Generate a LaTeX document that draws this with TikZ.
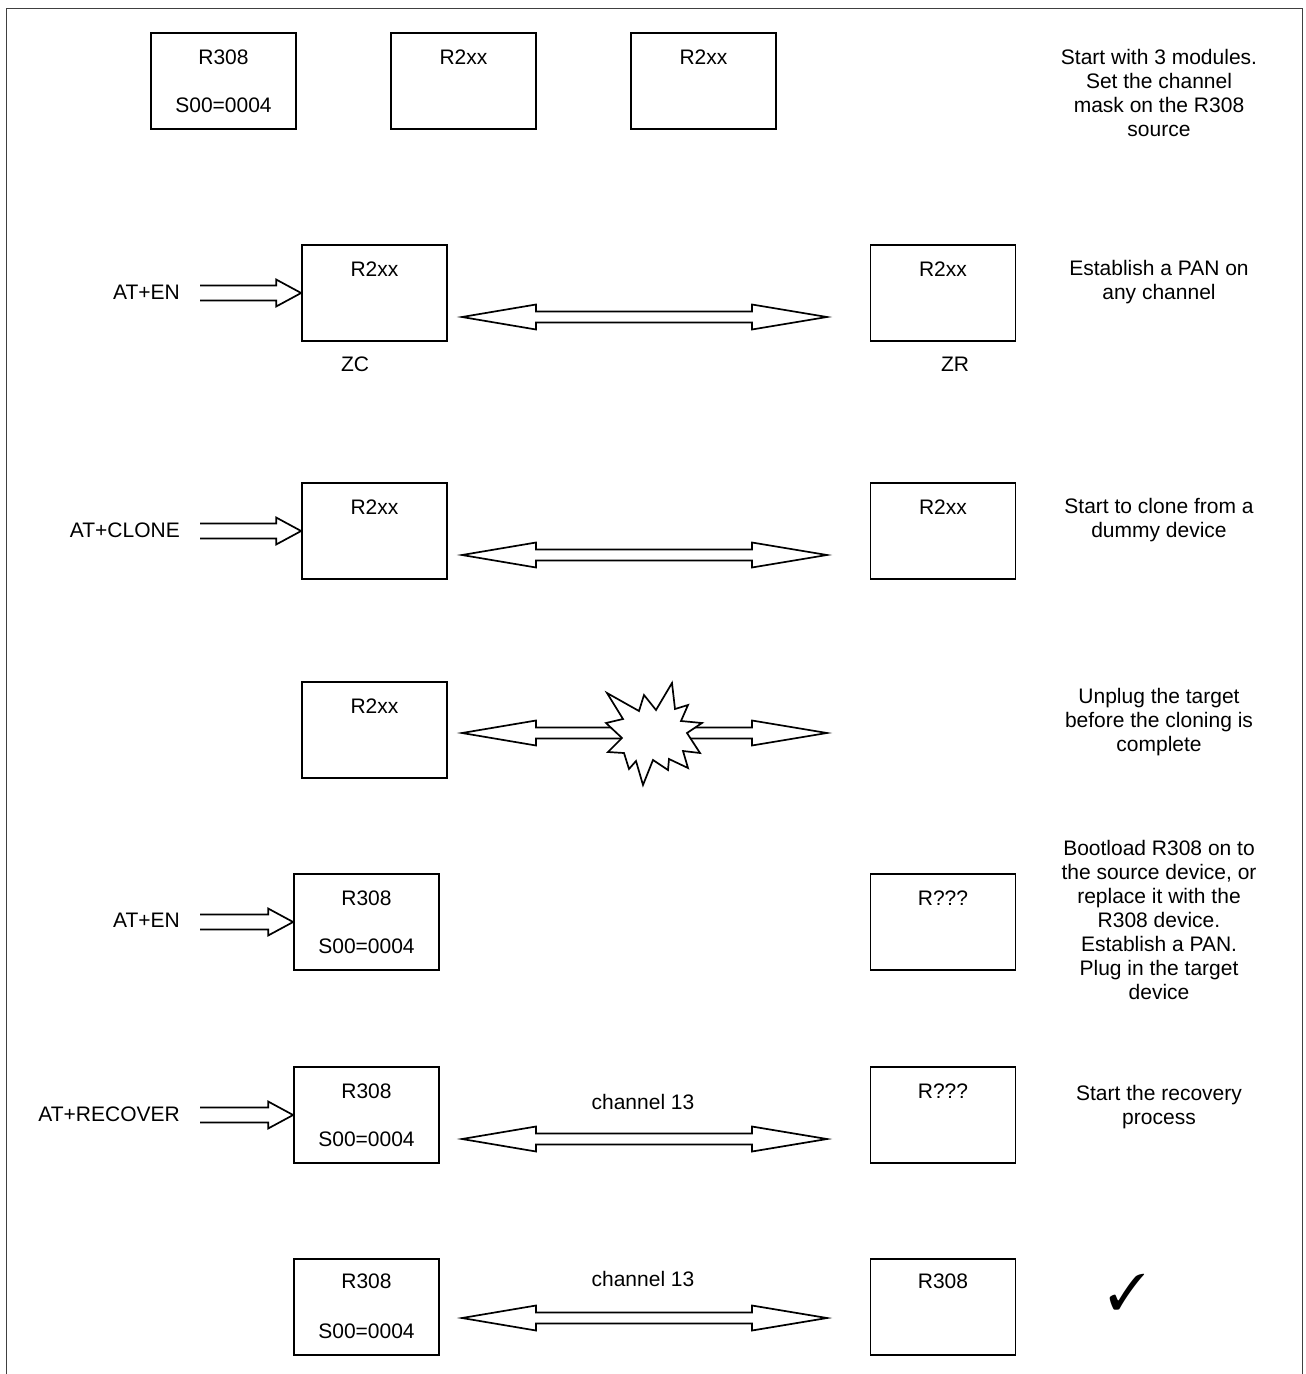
\documentclass[tikz,border=0pt]{standalone}
\usepackage{fontspec}
\setmainfont{Liberation Sans}
\usepackage{pifont}
\usetikzlibrary{calc}

\begin{document}
\begin{tikzpicture}[x=1pt,y=-1pt,
  every node/.style={font=\fontsize{21}{24}\selectfont, inner sep=0pt},
  module/.style={draw, line width=1.7pt, minimum width=145pt, minimum height=96pt},
  lbl/.style={anchor=base},
  % multi-line notes: the base anchor sits on the last line
  note/.style={anchor=base, align=center},
  cmd/.style={anchor=base east},
  % hollow single arrow, open at its tail
  fatin/.style={line width=1.7pt, line join=miter, to path={
      ($(\tikztostart)+(0,-7.5)$) -- ($(\tikztotarget)+(-25,-7.5)$)
      -- ($(\tikztotarget)+(-25,-13.5)$) -- (\tikztotarget)
      -- ($(\tikztotarget)+(-25,13.5)$) -- ($(\tikztotarget)+(-25,7.5)$)
      -- ($(\tikztostart)+(0,7.5)$)}},
  % hollow double-headed arrow
  fatboth/.style={line width=1.7pt, line join=miter, fill=white, to path={
      -- ($(\tikztostart)+(74,-12.5)$) -- ($(\tikztostart)+(74,-5.5)$)
      -- ($(\tikztotarget)+(-75,-5.5)$) -- ($(\tikztotarget)+(-75,-12.5)$)
      -- (\tikztotarget)
      -- ($(\tikztotarget)+(-75,12.5)$) -- ($(\tikztotarget)+(-75,5.5)$)
      -- ($(\tikztostart)+(74,5.5)$) -- ($(\tikztostart)+(74,12.5)$) -- cycle}}
]
\useasboundingbox (0,0) rectangle (1306,1374);

% outer frame
\draw[line width=1pt, black!75] (6,1374) -- (6,8) -- (1302,8) -- (1302,1374);

% ---- step 1
\node[module] (m11) at (223.5,81) {};
\node[module] (m12) at (463.5,81) {};
\node[module] (m13) at (703.5,81) {};
\node[lbl] (m11a) at ($(m11.north)+(0,32)$) {R308};
\node[lbl] (m11b) at ($(m11.north)+(0,80)$) {S00=0004};
\node[lbl] (m12a) at ($(m12.north)+(0,32)$) {R2xx};
\node[lbl] (m13a) at ($(m13.north)+(0,32)$) {R2xx};
\node[note] (n1) at (1159,136.5) {Start with 3 modules.\\Set the channel\\mask on the R308\\source};

% ---- step 2
\node[module] (zc) at (374.5,293) {};
\node[module] (zr) at (943,293) {};
\node[lbl] (zca) at ($(zc.north)+(0,32)$) {R2xx};
\node[lbl] (zra) at ($(zr.north)+(0,32)$) {R2xx};
\node[lbl] (zcl) at (355,371.5) {ZC};
\node[lbl] (zrl) at (955,371.5) {ZR};
\node[cmd] (c2) at (180,299.5) {AT+EN};
\coordinate (i2) at (200,293);
\draw[fatin] (i2) to (zc.west);
\coordinate (a2l) at (462,317);
\coordinate (a2r) at (827,317);
\draw[fatboth] (a2l) to (a2r);
\node[note] (n2) at (1159,299.5) {Establish a PAN on\\any channel};

% ---- step 3
\node[module] (cl) at (374.5,531) {};
\node[module] (cr) at (943,531) {};
\node[lbl] (cla) at ($(cl.north)+(0,32)$) {R2xx};
\node[lbl] (cra) at ($(cr.north)+(0,32)$) {R2xx};
\node[cmd] (c3) at (180,537.5) {AT+CLONE};
\coordinate (i3) at (200,531);
\draw[fatin] (i3) to (cl.west);
\coordinate (a3l) at (462,555);
\coordinate (a3r) at (827,555);
\draw[fatboth] (a3l) to (a3r);
\node[note] (n3) at (1159,537.5) {Start to clone from a\\dummy device};

% ---- step 4
\node[module] (ul) at (374.5,730) {};
\node[lbl] (ula) at ($(ul.north)+(0,32)$) {R2xx};
\coordinate (a4l) at (462,733);
\coordinate (a4r) at (827,733);
\draw[fatboth] (a4l) to (a4r);
\coordinate (sb) at (651,733);
\draw[line width=1.7pt, line join=miter, fill=white]
  ($(sb)+(-44,-40)$) -- ($(sb)+(-12,-22)$) -- ($(sb)+(-7,-38)$) -- ($(sb)+(5,-23)$)
  -- ($(sb)+(21,-50)$) -- ($(sb)+(24,-24)$) -- ($(sb)+(37,-28)$) -- ($(sb)+(30,-12)$)
  -- ($(sb)+(51,-10)$) -- ($(sb)+(36,0)$) -- ($(sb)+(49,20)$) -- ($(sb)+(32,18)$)
  -- ($(sb)+(37,35)$) -- ($(sb)+(18,26)$) -- ($(sb)+(17,37)$) -- ($(sb)+(2,27)$)
  -- ($(sb)+(-8,52)$) -- ($(sb)+(-15,28)$) -- ($(sb)+(-22,36)$) -- ($(sb)+(-27,20)$)
  -- ($(sb)+(-43,19)$) -- ($(sb)+(-29,5)$) -- ($(sb)+(-45,-10)$) -- ($(sb)+(-28,-14)$)
  -- cycle;
\node[note] (n4) at (1159,751.5) {Unplug the target\\before the cloning is\\complete};

% ---- step 5
\node[module] (el) at (366.5,922) {};
\node[module] (er) at (943,922) {};
\node[lbl] (ela) at ($(el.north)+(0,32)$) {R308};
\node[lbl] (elb) at ($(el.north)+(0,80)$) {S00=0004};
\node[lbl] (era) at ($(er.north)+(0,32)$) {R???};
\node[cmd] (c5) at (180,927.5) {AT+EN};
\coordinate (i5) at (200,922);
\draw[fatin] (i5) to (el.west);
\node[note] (n5) at (1159,999.5) {Bootload R308 on to\\the source device, or\\replace it with the\\R308 device.\\Establish a PAN.\\Plug in the target\\device};

% ---- step 6
\node[module] (rl) at (366.5,1115) {};
\node[module] (rr) at (943,1115) {};
\node[lbl] (rla) at ($(rl.north)+(0,32)$) {R308};
\node[lbl] (rlb) at ($(rl.north)+(0,80)$) {S00=0004};
\node[lbl] (rra) at ($(rr.north)+(0,32)$) {R???};
\node[cmd] (c6) at (180,1121.5) {AT+RECOVER};
\coordinate (i6) at (200,1115);
\draw[fatin] (i6) to (rl.west);
\coordinate (a6l) at (462,1139);
\coordinate (a6r) at (827,1139);
\draw[fatboth] (a6l) to (a6r);
\node[lbl] (ch6) at (643,1109.5) {channel 13};
\node[note] (n6) at (1159,1124.5) {Start the recovery\\process};

% ---- step 7
\node[module] (fl) at (366.5,1307) {};
\node[module] (fr) at (943,1307) {};
\node[lbl] (fla) at ($(fl.north)+(0,30)$) {R308};
\node[lbl] (flb) at ($(fl.north)+(0,80)$) {S00=0004};
\node[lbl] (fra) at ($(fr.north)+(0,30)$) {R308};
\coordinate (a7l) at (462,1318);
\coordinate (a7r) at (827,1318);
\draw[fatboth] (a7l) to (a7r);
\node[lbl] (ch7) at (643,1286.5) {channel 13};
\node[anchor=base west, font=\fontsize{50}{50}\selectfont] (ok) at (1108,1309) {\ding{51}};
\end{tikzpicture}
\end{document}
